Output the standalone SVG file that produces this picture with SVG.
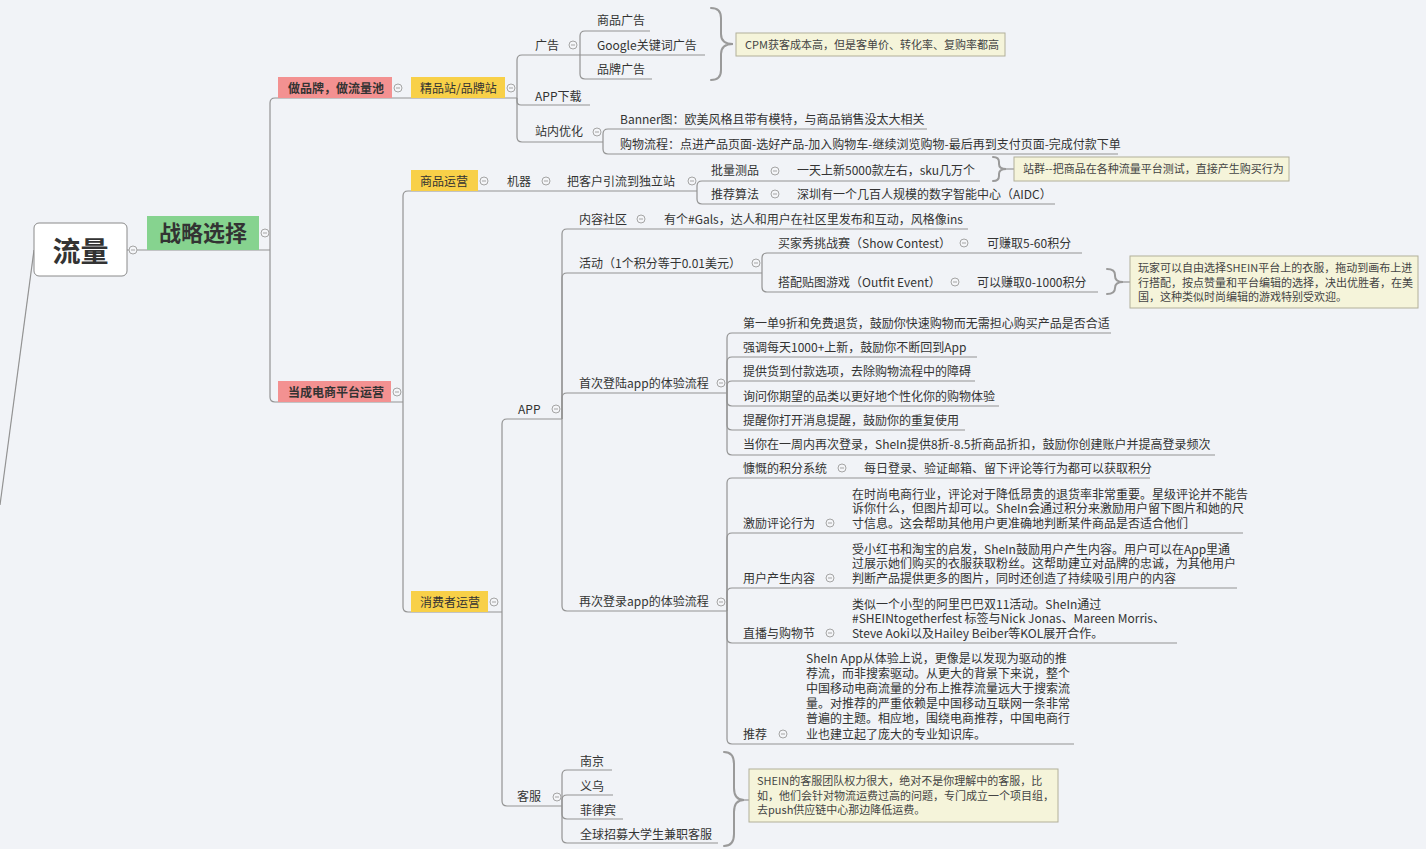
<svg xmlns="http://www.w3.org/2000/svg" xmlns:xlink="http://www.w3.org/1999/xlink" width="1426" height="849" viewBox="0 0 1426 849">
<style>
text { font-family: "Noto Sans CJK SC", "Noto Sans", "Liberation Sans", sans-serif; font-size: 12px; fill: #333; }
.b { font-weight: bold; }
.c { font-size: 11px; fill: #444; }
.ln { fill: none; stroke: #939393; stroke-width: 1.2; }
.br { fill: none; stroke: #9a9a9a; stroke-width: 2; stroke-linecap: round; }
.co { fill: #f5f4da; stroke: #b2b09a; stroke-width: 1; }
.pink { fill: #f39191; }
.yel { fill: #f8d048; }
.grn { fill: #86d38f; }
.cc circle { fill: #f4f5f8; stroke: #a5a5a5; stroke-width: 1; }
.cc path { stroke: #a5a5a5; stroke-width: 1; }
</style>
<defs>
<g id="m" class="cc"><circle cx="0" cy="0" r="4"/><path d="M-2 0H2"/></g>
</defs>
<rect width="1426" height="849" fill="#f1f3f7"/>

<g id="connectors">
<path class="ln" d="M34 250 L0 505"/>
<path class="ln" d="M127 250 H270"/>
<path class="ln" d="M270 250 V103 Q270 98 275 98 H517"/>
<path class="ln" d="M270 250 V397 Q270 402 275 402 H403"/>
<path class="ln" d="M517 98 V60 Q517 55 522 55 H580"/>
<path class="ln" d="M517 98 V101 Q517 105 521 105 H590"/>
<path class="ln" d="M517 98 V137 Q517 142 522 142 H603"/>
<path class="ln" d="M580 55 V36 Q580 31 585 31 H650"/>
<path class="ln" d="M580 55 H705"/>
<path class="ln" d="M580 55 V74 Q580 79 585 79 H652"/>
<path class="ln" d="M603 142 V134 Q603 129 608 129 H927"/>
<path class="ln" d="M603 142 V149 Q603 154 608 154 H1118"/>
<path class="ln" d="M403 402 V196 Q403 191 408 191 H697"/>
<path class="ln" d="M403 402 V607 Q403 612 408 612 H502"/>
<path class="ln" d="M697 191 V186 Q697 181 702 181 H980"/>
<path class="ln" d="M697 191 V199 Q697 204 702 204 H1055"/>
<path class="ln" d="M502 612 V424 Q502 419 507 419 H562"/>
<path class="ln" d="M502 612 V801 Q502 806 507 806 H562"/>
<path class="ln" d="M562 419 V234 Q562 229 567 229 H968"/>
<path class="ln" d="M562 419 V278 Q562 273 567 273 H762"/>
<path class="ln" d="M562 419 V398 Q562 393 567 393 H727"/>
<path class="ln" d="M562 419 V606 Q562 611 567 611 H727"/>
<path class="ln" d="M762 273 V258 Q762 253 767 253 H1082"/>
<path class="ln" d="M762 273 V287 Q762 292 767 292 H1098"/>
<path class="ln" d="M727 393 V338 Q727 333 732 333 H1111"/>
<path class="ln" d="M727 393 V362 Q727 357 732 357 H977"/>
<path class="ln" d="M727 393 V386 Q727 381 732 381 H975"/>
<path class="ln" d="M727 393 V401 Q727 406 732 406 H999"/>
<path class="ln" d="M727 393 V425 Q727 430 732 430 H965"/>
<path class="ln" d="M727 393 V450 Q727 455 732 455 H1215"/>
<path class="ln" d="M727 611 V483 Q727 478 732 478 H1150"/>
<path class="ln" d="M727 611 V538 Q727 533 732 533 H1243"/>
<path class="ln" d="M727 611 V593 Q727 588 732 588 H1237"/>
<path class="ln" d="M727 611 V638 Q727 643 732 643 H1177"/>
<path class="ln" d="M727 611 V739 Q727 744 732 744 H1074"/>
<path class="ln" d="M562 806 V775 Q562 770 567 770 H612"/>
<path class="ln" d="M562 806 V800 Q562 795 567 795 H613"/>
<path class="ln" d="M562 806 V814 Q562 819 567 819 H623"/>
<path class="ln" d="M562 806 V838 Q562 843 567 843 H718"/>
<!-- braces -->
<path class="br" d="M711 8 Q721 8 721 18 L721 34 Q721 44 733 44 Q721 44 721 54 L721 70 Q721 80 711 80"/>
<path class="br" d="M993 157 Q999 157 999 162 L999 164 Q999 169 1006 169 Q999 169 999 174 L999 176 Q999 181 993 181"/>
<path class="ln" d="M1006 169 H1014"/>
<path class="br" d="M1107 269 Q1115 269 1115 275 L1115 276 Q1115 282 1123 282 Q1115 282 1115 288 L1115 288 Q1115 294 1107 294"/>
<path class="ln" d="M1123 282 H1130"/>
<path class="br" d="M724 752 Q734 752 734 764 L734 788 Q734 800 744 800 Q734 800 734 812 L734 834 Q734 846 724 846"/>
<path class="ln" d="M744 800 H749"/>
</g>

<g id="n-root">
<rect x="34" y="223" width="93" height="53" rx="5" fill="#fff" stroke="#8a8a8a" stroke-width="1"/>
<text x="80.5" y="262" text-anchor="middle" class="b" style="font-size:28px">流量</text>
<use href="#m" x="133" y="250"/>
</g>
<g id="n-zlxz">
<rect x="147" y="216" width="112" height="34" class="grn"/>
<text x="203" y="241" text-anchor="middle" class="b" style="font-size:22px">战略选择</text>
<use href="#m" x="265" y="233"/>
</g>
<g id="n-zpp">
<rect x="278" y="77" width="114" height="21" class="pink"/>
<text x="288" y="92.5" class="b">做品牌，做流量池</text>
<use href="#m" x="398" y="88"/>
</g>
<g id="n-jpz">
<rect x="411" y="77" width="94" height="21" class="yel"/>
<text x="420" y="92.5">精品站/品牌站</text>
<use href="#m" x="511" y="88"/>
</g>
<g id="n-gg"><text x="535" y="49.5">广告</text><use href="#m" x="573" y="45"/></g>
<g id="n-spgg"><text x="597" y="25">商品广告</text></g>
<g id="n-google"><text x="597" y="49.5">Google关键词广告</text></g>
<g id="n-ppgg"><text x="597" y="74">品牌广告</text></g>
<g id="n-cpm">
<rect x="736" y="33" width="269" height="23" class="co"/>
<text x="745" y="49" class="c">CPM获客成本高，但是客单价、转化率、复购率都高</text>
</g>
<g id="n-appdl"><text x="535" y="100.5">APP下载</text></g>
<g id="n-znyh"><text x="535" y="136">站内优化</text><use href="#m" x="597" y="132"/></g>
<g id="n-banner"><text x="620" y="124">Banner图：欧美风格且带有模特，与商品销售没太大相关</text></g>
<g id="n-gwlc"><text x="620" y="149">购物流程：点进产品页面-选好产品-加入购物车-继续浏览购物-最后再到支付页面-完成付款下单</text></g>

<g id="n-dcds">
<rect x="278" y="381" width="113" height="21" class="pink"/>
<text x="288" y="396.5" class="b">当成电商平台运营</text>
<use href="#m" x="397" y="392"/>
</g>
<g id="n-spyy">
<rect x="411" y="170" width="67" height="21" class="yel"/>
<text x="420" y="185.5">商品运营</text>
<use href="#m" x="484" y="181"/>
</g>
<g id="n-jq"><text x="507" y="185.5">机器</text><use href="#m" x="546" y="181"/></g>
<g id="n-ylz"><text x="567" y="185.5">把客户引流到独立站</text><use href="#m" x="692" y="181"/></g>
<g id="n-plcp"><text x="711" y="175">批量测品</text><use href="#m" x="775" y="171"/></g>
<g id="n-ytsx"><text x="797" y="175">一天上新5000款左右，sku几万个</text></g>
<g id="n-zq">
<rect x="1014" y="157" width="275" height="24" class="co"/>
<text x="1023" y="173" class="c">站群--把商品在各种流量平台测试，直接产生购买行为</text>
</g>
<g id="n-tjsf"><text x="711" y="198.5">推荐算法</text><use href="#m" x="775" y="194"/></g>
<g id="n-aidc"><text x="797" y="198.5">深圳有一个几百人规模的数字智能中心（AIDC）</text></g>

<g id="n-xfz">
<rect x="411" y="591" width="77" height="21" class="yel"/>
<text x="420" y="606.5">消费者运营</text>
<use href="#m" x="494" y="602"/>
</g>
<g id="n-app"><text x="518" y="413.5">APP</text><use href="#m" x="556" y="409"/></g>
<g id="n-nrsq"><text x="579" y="223.5">内容社区</text><use href="#m" x="641" y="219"/></g>
<g id="n-gals"><text x="664" y="223.5">有个#Gals，达人和用户在社区里发布和互动，风格像ins</text></g>
<g id="n-hd"><text x="579" y="267.5">活动（1个积分等于0.01美元）</text><use href="#m" x="756" y="263"/></g>
<g id="n-mjx"><text x="778" y="247.5">买家秀挑战赛（Show Contest）</text><use href="#m" x="964" y="243"/></g>
<g id="n-kzq1"><text x="987" y="247.5">可赚取5-60积分</text></g>
<g id="n-dptt"><text x="778" y="286.5">搭配贴图游戏（Outfit Event）</text><use href="#m" x="955" y="282"/></g>
<g id="n-kzq2"><text x="977" y="286.5">可以赚取0-1000积分</text></g>
<g id="n-wj">
<rect x="1130" y="256" width="288" height="52" class="co"/>
<text x="1138" y="272" class="c">玩家可以自由选择SHEIN平台上的衣服，拖动到画布上进</text>
<text x="1138" y="286.5" class="c">行搭配，按点赞量和平台编辑的选择，决出优胜者，在美</text>
<text x="1138" y="301" class="c">国，这种类似时尚编辑的游戏特别受欢迎。</text>
</g>
<g id="n-scdl"><text x="579" y="387.5">首次登陆app的体验流程</text><use href="#m" x="721" y="383"/></g>
<g id="n-s1"><text x="743" y="327.5">第一单9折和免费退货，鼓励你快速购物而无需担心购买产品是否合适</text></g>
<g id="n-s2"><text x="743" y="351.5">强调每天1000+上新，鼓励你不断回到App</text></g>
<g id="n-s3"><text x="743" y="375.5">提供货到付款选项，去除购物流程中的障碍</text></g>
<g id="n-s4"><text x="743" y="400.5">询问你期望的品类以更好地个性化你的购物体验</text></g>
<g id="n-s5"><text x="743" y="424.5">提醒你打开消息提醒，鼓励你的重复使用</text></g>
<g id="n-s6"><text x="743" y="449">当你在一周内再次登录，SheIn提供8折-8.5折商品折扣，鼓励你创建账户并提高登录频次</text></g>
<g id="n-zcdl"><text x="579" y="606">再次登录app的体验流程</text><use href="#m" x="721" y="602"/></g>
<g id="n-kk"><text x="743" y="472.5">慷慨的积分系统</text><use href="#m" x="842" y="468"/></g>
<g id="n-mrdl"><text x="864" y="472.5">每日登录、验证邮箱、留下评论等行为都可以获取积分</text></g>
<g id="n-jlpl"><text x="743" y="527.5">激励评论行为</text><use href="#m" x="830" y="523"/></g>
<g id="n-jlpl-t">
<text x="852" y="498.5">在时尚电商行业，评论对于降低昂贵的退货率非常重要。星级评论并不能告</text>
<text x="852" y="513">诉你什么，但图片却可以。SheIn会通过积分来激励用户留下图片和她的尺</text>
<text x="852" y="527.5">寸信息。这会帮助其他用户更准确地判断某件商品是否适合他们</text>
</g>
<g id="n-yhcs"><text x="743" y="582.5">用户产生内容</text><use href="#m" x="830" y="578"/></g>
<g id="n-yhcs-t">
<text x="852" y="553.5">受小红书和淘宝的启发，SheIn鼓励用户产生内容。用户可以在App里通</text>
<text x="852" y="568">过展示她们购买的衣服获取粉丝。这帮助建立对品牌的忠诚，为其他用户</text>
<text x="852" y="582.5">判断产品提供更多的图片，同时还创造了持续吸引用户的内容</text>
</g>
<g id="n-zb"><text x="743" y="637.5">直播与购物节</text><use href="#m" x="830" y="633"/></g>
<g id="n-zb-t">
<text x="852" y="608.5">类似一个小型的阿里巴巴双11活动。SheIn通过</text>
<text x="852" y="623">#SHEINtogetherfest 标签与Nick Jonas、Mareen Morris、</text>
<text x="852" y="637.5">Steve Aoki以及Hailey Beiber等KOL展开合作。</text>
</g>
<g id="n-tj"><text x="743" y="738.5">推荐</text><use href="#m" x="783" y="734"/></g>
<g id="n-tj-t">
<text x="806" y="662.5">SheIn App从体验上说，更像是以发现为驱动的推</text>
<text x="806" y="677.7">荐流，而非搜索驱动。从更大的背景下来说，整个</text>
<text x="806" y="692.9">中国移动电商流量的分布上推荐流量远大于搜索流</text>
<text x="806" y="708.1">量。对推荐的严重依赖是中国移动互联网一条非常</text>
<text x="806" y="723.3">普遍的主题。相应地，围绕电商推荐，中国电商行</text>
<text x="806" y="738.5">业也建立起了庞大的专业知识库。</text>
</g>
<g id="n-kf"><text x="517" y="801">客服</text><use href="#m" x="557" y="797"/></g>
<g id="n-nj"><text x="580" y="765.5">南京</text></g>
<g id="n-yw"><text x="580" y="790.5">义乌</text></g>
<g id="n-flb"><text x="580" y="814.5">菲律宾</text></g>
<g id="n-qq"><text x="580" y="838.5">全球招募大学生兼职客服</text></g>
<g id="n-shein">
<rect x="749" y="769" width="309" height="53" class="co"/>
<text x="757" y="785" class="c">SHEIN的客服团队权力很大，绝对不是你理解中的客服，比</text>
<text x="757" y="799.5" class="c">如，他们会针对物流运费过高的问题，专门成立一个项目组，</text>
<text x="757" y="814" class="c">去push供应链中心那边降低运费。</text>
</g>
</svg>
